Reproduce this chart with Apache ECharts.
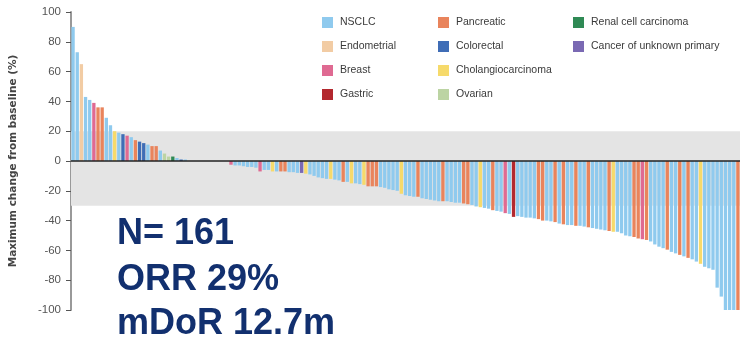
<!DOCTYPE html>
<html lang="en">
<head>
    <meta charset="UTF-8">
    <title>Waterfall</title>
    <script src="https://cdn.jsdelivr.net/npm/echarts@6/dist/echarts.min.js"></script>
    <style>
        html, body {
            margin: 0;
            height: 100%;
            background: #fff;
        }
    </style>
</head>
<body>
<div id="main" style="width: 740px;height: 340px;"></div>
<script>

    // tumour type names, in legend order
    var tumorNames = {
        N: 'NSCLC', E: 'Endometrial', B: 'Breast', G: 'Gastric',
        P: 'Pancreatic', C: 'Colorectal', H: 'Cholangiocarcinoma', O: 'Ovarian',
        R: 'Renal cell carcinoma', U: 'Cancer of unknown primary'
    };
    var tumorColors = {
        N: '#8fcaee', E: '#f2cca4', B: '#df6a92', G: '#b3282e',
        P: '#e9845c', C: '#3f6db6', H: '#f6da6b', O: '#bcd4a3',
        R: '#2f8a55', U: '#7a69b3'
    };
    var legendCols = [['N', 'E', 'B', 'G'], ['P', 'C', 'H', 'O'], ['R', 'U']];

    // best change per patient (%), sorted
    var changePos = [90, 73, 65, 43, 41, 39, 36, 36, 29, 24, 20, 19, 18, 17, 16, 14, 13, 12, 11, 10, 10, 7, 5, 3, 3, 2, 1, 1];
    var typePos = ['N', 'N', 'E', 'N', 'N', 'B', 'P', 'P', 'N', 'N', 'H', 'N', 'C', 'B', 'N', 'P', 'C', 'C', 'N', 'P', 'P', 'N', 'O', 'O', 'R', 'N', 'C', 'N'];

    var changeZero = [0, 0, 0, 0, 0, 0, 0, 0, 0, 0];
    var typeZero = ['N', 'N', 'N', 'N', 'N', 'N', 'N', 'N', 'N', 'N'];

    var changeNeg = [
        -2.5, -3, -3, -3.5, -4, -4, -4.5, -7, -6, -6,
        -7, -7, -7, -7, -7.5, -7.5, -8, -8, -8.5, -9,
        -10, -11, -11.5, -12, -12, -12.5, -13, -14, -14, -15,
        -15, -15.5, -16, -17, -17, -17, -17.5, -18, -19, -19.5,
        -20, -22, -23, -23.5, -24, -24, -25, -25.5, -26, -26.5,
        -27, -27, -27, -27.5, -28, -28, -28.5, -29, -29.5, -30.5,
        -31, -31.5, -32, -33, -33.5, -34, -35, -35.5, -37.5, -37,
        -37.5, -38, -38, -38.5, -39, -40, -40, -40.5, -41, -42,
        -42.5, -43, -43, -43.5, -43.5, -44, -44.5, -45, -45.5, -46,
        -46.5, -47, -47.5, -47.5, -48.5, -50, -50.5, -51, -52, -52.5,
        -53, -54, -56, -57.5, -58.5, -59.5, -61, -62, -63, -64,
        -65, -66, -67.5, -69, -71, -72, -73, -85, -91, -100,
        -100, -100, -100
    ];
    var typeNeg = [
        'B', 'N', 'N', 'N', 'N', 'N', 'N', 'B', 'N', 'N',
        'H', 'N', 'P', 'P', 'N', 'N', 'N', 'U', 'H', 'N',
        'N', 'N', 'N', 'N', 'H', 'N', 'N', 'P', 'N', 'H',
        'N', 'N', 'H', 'P', 'P', 'P', 'N', 'N', 'N', 'N',
        'N', 'H', 'N', 'N', 'N', 'P', 'N', 'N', 'N', 'N',
        'N', 'P', 'N', 'N', 'N', 'N', 'P', 'P', 'N', 'N',
        'H', 'N', 'N', 'P', 'N', 'N', 'B', 'N', 'G', 'N',
        'N', 'N', 'N', 'N', 'P', 'P', 'N', 'N', 'P', 'N',
        'P', 'N', 'N', 'P', 'N', 'N', 'P', 'N', 'N', 'N',
        'N', 'P', 'H', 'N', 'N', 'N', 'N', 'P', 'P', 'B',
        'P', 'N', 'N', 'N', 'N', 'P', 'N', 'N', 'P', 'N',
        'P', 'N', 'N', 'H', 'N', 'N', 'N', 'N', 'N', 'N',
        'N', 'N', 'P'
    ];

    var yTicks = [-100, -80, -60, -40, -20, 0, 20, 40, 60, 80, 100];
    var summary = ['N= 161', 'ORR 29%', 'mDoR 12.7m'];

    var change = changePos.concat(changeZero, changeNeg);
    var tumor = typePos.concat(typeZero, typeNeg);
    var patients = change.map(function (v, i) { return 'P' + (i + 1); });

    var myChart = echarts.init(document.getElementById('main'));

    // one stacked bar series per tumour type
    var series = Object.keys(tumorNames).map(function (code) {
        return {
            name: tumorNames[code],
            type: 'bar',
            stack: 'all',
            barCategoryGap: '20%',
            itemStyle: {color: tumorColors[code]},
            data: change.map(function (v, i) { return tumor[i] === code ? v : '-'; })
        };
    });

    // grey band behind the bars
    series.unshift({
        name: 'band',
        type: 'line',
        z: 0,
        data: [],
        silent: true,
        markArea: {
            silent: true,
            itemStyle: {color: '#e4e4e4'},
            data: [[{yAxis: 20}, {yAxis: -30}]]
        }
    });
    // zero line on top
    series.push({
        name: 'zero',
        type: 'line',
        z: 10,
        data: [],
        markLine: {
            silent: true,
            symbol: 'none',
            label: {show: false},
            lineStyle: {color: '#222', width: 1.5, type: 'solid'},
            data: [{yAxis: 0}]
        }
    });

    var legends = legendCols.map(function (col, k) {
        return {
            orient: 'vertical',
            left: [322, 438, 573][k],
            top: 17,
            padding: 0,
            itemWidth: 11,
            itemHeight: 11,
            itemGap: 13,
            icon: 'rect',
            selectedMode: false,
            textStyle: {fontFamily: 'Arial', fontSize: 10.5, color: '#3a3a3a', padding: [0, 0, 0, 2]},
            data: col.map(function (c) { return tumorNames[c]; })
        };
    });

    var graphics = summary.map(function (t, i) {
        return {
            type: 'text',
            left: 117,
            top: [216, 262, 306][i],
            style: {text: t, font: 'bold 36px Arial', fill: '#12306f'}
        };
    });

    var option = {
        animation: false,
        legend: legends,
        grid: {left: 67, right: 0, top: 12, bottom: 30},
        xAxis: {
            type: 'category',
            data: patients,
            axisLine: {show: false},
            axisTick: {show: false},
            axisLabel: {show: false}
        },
        yAxis: {
            type: 'value',
            min: yTicks[0],
            max: yTicks[yTicks.length - 1],
            interval: 20,
            name: 'Maximum change from baseline (%)',
            nameLocation: 'middle',
            nameGap: 52,
            nameTextStyle: {fontFamily: 'DejaVu Sans', fontSize: 10.5, fontWeight: 'bold', color: '#444'},
            axisLine: {show: true, lineStyle: {color: '#999', width: 2}},
            axisTick: {show: true, length: 5, lineStyle: {color: '#555'}},
            axisLabel: {fontFamily: 'Arial', fontSize: 11.5, color: '#555', margin: 10},
            splitLine: {show: false}
        },
        graphic: graphics,
        series: series
    };
    myChart.setOption(option);

</script>
</body>
</html>
